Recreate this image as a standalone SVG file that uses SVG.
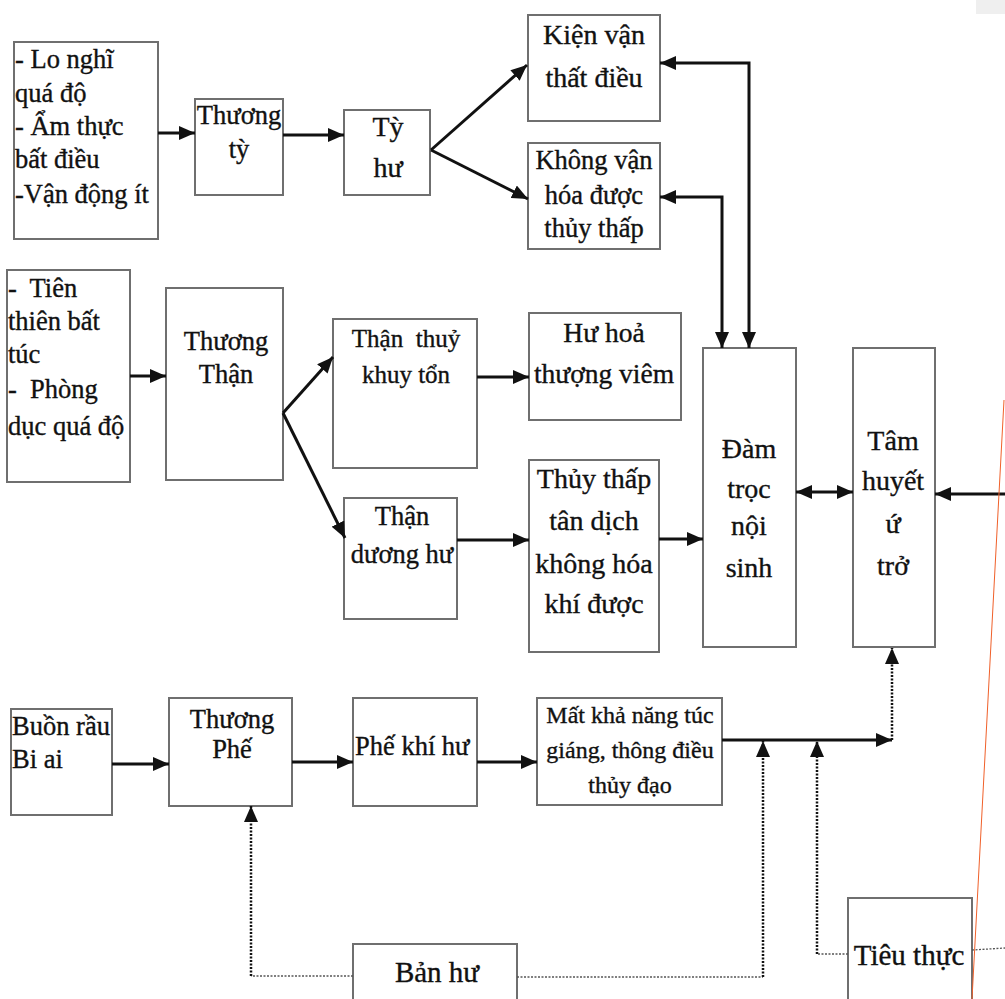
<svg xmlns="http://www.w3.org/2000/svg" width="1005" height="999" viewBox="0 0 1005 999">
<style>
.box{fill:#fff;stroke:#6f6f6f;stroke-width:2}
.t{font-family:"Liberation Serif","Times New Roman",serif;font-size:26.5px;fill:#111;stroke:#111;stroke-width:0.35}
.c{text-anchor:middle}
.s24{font-size:24px}
.s25{font-size:25px}
.s27{font-size:27.5px}
.s28{font-size:28px}
.s29{font-size:29px}
.ln{fill:none;stroke:#111;stroke-width:3}
.dot{fill:none;stroke:#111;stroke-width:2.5;stroke-dasharray:2 1.5}
.dotl{fill:none;stroke:#555;stroke-width:1.3;stroke-dasharray:2 1.5}
</style>
<defs>
<marker id="ah" markerUnits="userSpaceOnUse" markerWidth="16" markerHeight="14" refX="16" refY="7" orient="auto-start-reverse">
<path d="M0,0 L16,7 L0,14 z" fill="#111"/>
</marker>
</defs>
<rect width="1005" height="999" fill="#fff"/>
<rect x="976" y="0" width="29" height="14" fill="#efefef"/>

<g id="n1"><rect class="box" x="14" y="42" width="144" height="197"/>
<text class="t" x="15" y="68" xml:space="preserve">- Lo nghĩ</text>
<text class="t" x="15" y="102">quá độ</text>
<text class="t" x="15" y="135" xml:space="preserve">- Ẩm thực</text>
<text class="t" x="15" y="168">bất điều</text>
<text class="t" x="15" y="203">-Vận động ít</text></g>

<g id="n2"><rect class="box" x="195" y="99" width="88" height="96"/>
<text class="t c" x="239" y="124">Thương</text>
<text class="t c" x="239" y="158">tỳ</text></g>

<g id="n3"><rect class="box" x="344" y="110" width="86" height="85"/>
<text class="t c s28" x="388" y="136">Tỳ</text>
<text class="t c s28" x="388" y="177">hư</text></g>

<g id="n4"><rect class="box" x="528" y="15" width="132" height="106"/>
<text class="t c s28" x="594" y="44">Kiện vận</text>
<text class="t c s28" x="594" y="87">thất điều</text></g>

<g id="n5"><rect class="box" x="528" y="143" width="132" height="106"/>
<text class="t c" x="594" y="169">Không vận</text>
<text class="t c" x="594" y="204">hóa được</text>
<text class="t c" x="594" y="237">thủy thấp</text></g>

<g id="n6"><rect class="box" x="7" y="270" width="123" height="212"/>
<text class="t" x="8" y="297" xml:space="preserve">-  Tiên</text>
<text class="t" x="8" y="330">thiên bất</text>
<text class="t" x="8" y="363">túc</text>
<text class="t" x="8" y="398" xml:space="preserve">-  Phòng</text>
<text class="t" x="8" y="435">dục quá độ</text></g>

<g id="n7"><rect class="box" x="166" y="288" width="117" height="192"/>
<text class="t c" x="226" y="350">Thương</text>
<text class="t c" x="226" y="383">Thận</text></g>

<g id="n8"><rect class="box" x="333" y="319" width="144" height="149"/>
<text class="t c s25" x="406" y="347" xml:space="preserve">Thận  thuỷ</text>
<text class="t c s25" x="406" y="383">khuy tổn</text></g>

<g id="n9"><rect class="box" x="529" y="313" width="152" height="107"/>
<text class="t c s27" x="604" y="342">Hư hoả</text>
<text class="t c s27" x="604" y="383">thượng viêm</text></g>

<g id="n10"><rect class="box" x="344" y="498" width="113" height="121"/>
<text class="t c" x="402" y="525">Thận</text>
<text class="t c" x="402" y="563">dương hư</text></g>

<g id="n11"><rect class="box" x="529" y="460" width="130" height="192"/>
<text class="t c s28" x="594" y="488">Thủy thấp</text>
<text class="t c s28" x="594" y="530">tân dịch</text>
<text class="t c s28" x="594" y="573">không hóa</text>
<text class="t c s28" x="594" y="613">khí được</text></g>

<g id="n12"><rect class="box" x="703" y="348" width="93" height="299"/>
<text class="t c s28" x="749" y="458">Đàm</text>
<text class="t c s28" x="749" y="498">trọc</text>
<text class="t c s28" x="749" y="535">nội</text>
<text class="t c s28" x="749" y="577">sinh</text></g>

<g id="n13"><rect class="box" x="853" y="348" width="82" height="299"/>
<text class="t c s28" x="893" y="450">Tâm</text>
<text class="t c s28" x="893" y="490">huyết</text>
<text class="t c s28" x="893" y="533">ứ</text>
<text class="t c s28" x="893" y="575">trở</text></g>

<g id="n14"><rect class="box" x="11" y="709" width="101" height="106"/>
<text class="t" x="12" y="735">Buồn rầu</text>
<text class="t" x="12" y="768">Bi ai</text></g>

<g id="n15"><rect class="box" x="169" y="698" width="123" height="108"/>
<text class="t c" x="232" y="728">Thương</text>
<text class="t c" x="232" y="758">Phế</text></g>

<g id="n16"><rect class="box" x="353" y="698" width="124" height="108"/>
<text class="t" x="355" y="755">Phế khí hư</text></g>

<g id="n17"><rect class="box" x="537" y="698" width="185" height="107"/>
<text class="t c s24" x="630" y="723">Mất khả năng túc</text>
<text class="t c s24" x="630" y="758">giáng, thông điều</text>
<text class="t c s24" x="630" y="793">thủy đạo</text></g>

<g id="n18"><rect class="box" x="353" y="944" width="164" height="70"/>
<text class="t c s29" x="437" y="982">Bản hư</text></g>

<g id="n19"><rect class="box" x="848" y="898" width="124" height="116"/>
<text class="t c s29" x="909" y="965">Tiêu thực</text></g>

<g id="connectors">
<path class="ln" d="M158,133 H195" marker-end="url(#ah)"/>
<path class="ln" d="M283,135 H344" marker-end="url(#ah)"/>
<path class="ln" d="M431,150 L527,65" marker-end="url(#ah)"/>
<path class="ln" d="M431,150 L528,199" marker-end="url(#ah)"/>
<path class="ln" d="M660,63 H749 V348" marker-start="url(#ah)" marker-end="url(#ah)"/>
<path class="ln" d="M660,197 H722 V348" marker-start="url(#ah)" marker-end="url(#ah)"/>
<path class="ln" d="M130,376 H166" marker-end="url(#ah)"/>
<path class="ln" d="M283,413 L333,357" marker-end="url(#ah)"/>
<path class="ln" d="M283,413 L345,538" marker-end="url(#ah)"/>
<path class="ln" d="M477,377 H529" marker-end="url(#ah)"/>
<path class="ln" d="M457,540 H529" marker-end="url(#ah)"/>
<path class="ln" d="M659,539 H703" marker-end="url(#ah)"/>
<path class="ln" d="M796,492 H853" marker-start="url(#ah)" marker-end="url(#ah)"/>
<path class="ln" d="M1005,494 H935" marker-end="url(#ah)"/>
<path class="ln" d="M112,764 H169" marker-end="url(#ah)"/>
<path class="ln" d="M292,762 H353" marker-end="url(#ah)"/>
<path class="ln" d="M477,762 H537" marker-end="url(#ah)"/>
<path class="ln" d="M722,740 H892" marker-end="url(#ah)"/>
<path class="dot" d="M892,740 V648" marker-end="url(#ah)"/>
<path class="dotl" d="M353,976 H251"/>
<path class="dot" d="M251,976 V806" marker-end="url(#ah)"/>
<path class="dotl" d="M517,977 H763"/>
<path class="dot" d="M763,977 V741" marker-end="url(#ah)"/>
<path class="dotl" d="M848,954 H817"/>
<path class="dot" d="M817,954 V741" marker-end="url(#ah)"/>
<path class="dotl" d="M972,950 L1005,948"/>
</g>
<line x1="1004" y1="400" x2="972" y2="999" stroke="#f0602a" stroke-width="1"/>
</svg>
